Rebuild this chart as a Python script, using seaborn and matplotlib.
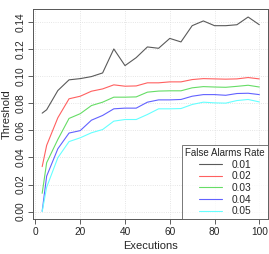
import pandas as pd
import numpy as np
import matplotlib.pyplot as plt
import seaborn as sns

# Threshold vs number of executions, one curve per false alarm rate
executions = [3, 5, 10, 15, 20, 25, 30, 35, 40, 45, 50, 55, 60, 65, 70, 75, 80, 85, 90, 95, 100]
rates = ['0.01', '0.02', '0.03', '0.04', '0.05']

thr_001 = [0.0727, 0.0752, 0.0894, 0.0973, 0.0982, 0.0997, 0.1024, 0.1201, 0.1078, 0.1137, 0.1216,
           0.1206, 0.1279, 0.1253, 0.1373, 0.1408, 0.1373, 0.1373, 0.1380, 0.1437, 0.1380]
thr_002 = [0.0332, 0.0489, 0.0693, 0.0833, 0.0852, 0.0889, 0.0906, 0.0936, 0.0926, 0.0928, 0.0951,
           0.0951, 0.0958, 0.0958, 0.0975, 0.0982, 0.0980, 0.0978, 0.0980, 0.0990, 0.0980]
thr_003 = [0.0135, 0.0361, 0.0533, 0.0688, 0.0723, 0.0783, 0.0808, 0.0845, 0.0845, 0.0847, 0.0882,
           0.0890, 0.0892, 0.0892, 0.0914, 0.0923, 0.0920, 0.0918, 0.0925, 0.0933, 0.0920]
thr_004 = [0.0003, 0.0262, 0.0464, 0.0580, 0.0598, 0.0675, 0.0710, 0.0759, 0.0764, 0.0764, 0.0808,
           0.0825, 0.0825, 0.0828, 0.0852, 0.0864, 0.0864, 0.0859, 0.0872, 0.0874, 0.0864]
thr_005 = [0.0000, 0.0180, 0.0398, 0.0517, 0.0545, 0.0582, 0.0606, 0.0668, 0.0680, 0.0680, 0.0717,
           0.0759, 0.0759, 0.0761, 0.0791, 0.0808, 0.0803, 0.0801, 0.0820, 0.0828, 0.0810]

colors = ['#5a5a5a', '#ff6060', '#66dd66', '#6262ff', '#66ffff']

df = pd.DataFrame({
    'Executions': executions * 5,
    'Threshold': thr_001 + thr_002 + thr_003 + thr_004 + thr_005,
    'rate': np.repeat(rates, len(executions)),
})

sns.set_style("white")
plt.rcParams['font.family'] = ['Liberation Sans', 'DejaVu Sans']

fig = plt.figure(figsize=(2.69, 2.54), dpi=100)
ax = fig.add_axes([0.1245, 0.1366, 0.8718, 0.8268])

sns.lineplot(data=df, x='Executions', y='Threshold', hue='rate', palette=colors,
             linewidth=0.8, ax=ax)

ax.set_xlim(-0.88, 103.88)
ax.set_ylim(-0.0057, 0.1494)
ax.set_xticks([0, 20, 40, 60, 80, 100])
ax.set_yticks(np.arange(0, 0.141, 0.02))
ax.set_yticklabels([f'{v:.2f}' for v in np.arange(0, 0.141, 0.02)], rotation=90, va='center')
ax.tick_params(axis='both', labelsize=7.3, length=3.5, width=0.6, color='#444444',
               direction='out', left=True, bottom=True, pad=2)
ax.grid(True, linestyle=':', color='#dddddd', linewidth=0.6)
for s in ax.spines.values():
    s.set_color('#555555')
    s.set_linewidth(0.7)
ax.set_xlabel('Executions', fontsize=8, labelpad=3)
ax.set_ylabel('Threshold', fontsize=8, labelpad=3)

leg = ax.legend(title='False Alarms Rate', loc='lower right', fontsize=7.3, title_fontsize=7,
                frameon=True, fancybox=False, borderaxespad=0, handlelength=2.3,
                labelspacing=0.16, borderpad=0.3, handletextpad=1.0, alignment='center')
leg.get_frame().set_edgecolor('#555555')
leg.get_frame().set_linewidth(0.7)

plt.savefig('out.png', dpi=100)
plt.close()
